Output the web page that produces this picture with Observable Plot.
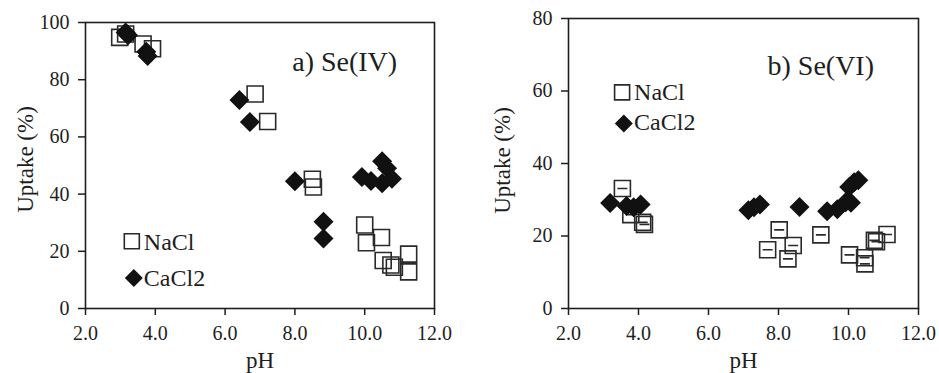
<!DOCTYPE html>
<html>
<head>
<meta charset="utf-8">
<script src="https://cdn.jsdelivr.net/npm/d3@7"></script>
<script src="https://cdn.jsdelivr.net/npm/@observablehq/plot@0.6"></script>
<style>
  html, body { margin: 0; padding: 0; background: #fff; }
  #wrap { display: flex; width: 939px; height: 373px; }
</style>
</head>
<body>
<div id="wrap"></div>
<script>
// ---------- data ----------
const xTicks = [2, 4, 6, 8, 10, 12];
const yTicksA = [0, 20, 40, 60, 80, 100];
const yTicksB = [0, 20, 40, 60, 80];
const seriesNames = ["NaCl", "CaCl2"];
const panelTitles = ["a) Se(IV)", "b) Se(VI)"];
const xLabel = "pH";
const yLabel = "Uptake (%)";

// Panel a) Se(IV)
const naclA_pH = [2.98, 3.15, 3.65, 3.92, 6.86, 7.22, 8.50, 8.53, 10.00, 10.05, 10.48, 10.53, 10.75, 10.85, 11.26, 11.26];
const naclA_up = [94.8, 96.0, 92.5, 90.8, 75.0, 65.4, 45.2, 42.5, 29.2, 23.0, 24.8, 16.8, 15.2, 14.4, 19.0, 12.8];
const caclA_pH = [3.15, 3.22, 3.74, 3.78, 6.41, 6.71, 8.00, 8.82, 8.82, 9.92, 10.18, 10.50, 10.50, 10.64, 10.78];
const caclA_up = [96.5, 95.5, 89.8, 88.3, 72.9, 65.2, 44.5, 30.3, 24.5, 46.0, 44.6, 51.5, 43.8, 49.0, 45.4];

// Panel b) Se(VI)
const naclB_pH = [3.54, 3.78, 4.12, 4.17, 7.69, 8.02, 8.27, 8.42, 9.21, 10.03, 10.46, 10.47, 10.74, 10.80, 11.10];
const naclB_up = [33.1, 25.9, 23.8, 23.2, 16.2, 21.7, 13.7, 17.4, 20.3, 14.8, 14.0, 12.3, 18.8, 18.4, 20.4];
const caclB_pH = [3.19, 3.66, 3.86, 4.06, 7.14, 7.30, 7.47, 8.60, 9.39, 9.68, 9.92, 10.07, 10.02, 10.16, 10.28];
const caclB_up = [29.1, 28.3, 27.9, 28.7, 27.1, 27.9, 28.7, 28.0, 26.8, 27.4, 29.3, 29.2, 33.5, 34.8, 35.4];

// ---------- symbols ----------
function squareSym(h, dash) {
  return {draw(ctx) {
    ctx.moveTo(-h, -h); ctx.lineTo(h, -h); ctx.lineTo(h, h); ctx.lineTo(-h, h); ctx.closePath();
    if (dash) { ctx.moveTo(-dash, 0); ctx.lineTo(dash, 0); }
  }};
}
function diamondSym(h) {
  return {draw(ctx) {
    ctx.moveTo(0, -h); ctx.lineTo(h, 0); ctx.lineTo(0, h); ctx.lineTo(-h, 0); ctx.closePath();
  }};
}

const zip = (xs, ys) => xs.map((x, i) => ({pH: x, up: ys[i]}));
const FONT = "Liberation Serif, Times New Roman, serif";
const INK = "#1e1e1e";

function panel(o) {
  return Plot.plot({
    width: o.width, height: 373,
    marginLeft: o.ml, marginRight: o.mr, marginTop: o.mt, marginBottom: o.mb,
    style: {fontFamily: FONT, fontSize: "20px", color: INK, background: "white", overflow: "visible"},
    x: {domain: [2, 12]},
    y: {domain: [0, o.yMax]},
    marks: [
      Plot.axisX({ticks: xTicks, tickFormat: d => d.toFixed(1), tickSize: 7, tickPadding: 10, strokeWidth: 1.5, fontSize: 20, label: null}),
      Plot.axisY({ticks: o.yTicks, tickFormat: d => String(d), tickSize: 7, tickPadding: 9, strokeWidth: 1.5, fontSize: 20, label: null}),
      Plot.frame({stroke: INK, strokeWidth: 1.6}),
      Plot.dot(zip(o.naPH, o.naUp), {x: "pH", y: "up", symbol: squareSym(8, o.dash), stroke: "#2a2a2a", strokeWidth: 1.6, fill: "none"}),
      Plot.dot(zip(o.caPH, o.caUp), {x: "pH", y: "up", symbol: diamondSym(10), fill: "#111", stroke: "none"}),
      // legend
      Plot.dot([seriesNames[0]], {frameAnchor: "top-left", dx: o.lg.sqx, dy: o.lg.sqy, symbol: squareSym(7.5), stroke: "#2a2a2a", strokeWidth: 1.6, fill: "none"}),
      Plot.text([seriesNames[0]], {text: d => d, frameAnchor: "top-left", dx: o.lg.tx, dy: o.lg.t1y, textAnchor: "start", lineAnchor: "bottom", fontSize: 24, fill: INK}),
      Plot.dot([seriesNames[1]], {frameAnchor: "top-left", dx: o.lg.dmx, dy: o.lg.dmy, symbol: diamondSym(9), fill: "#111", stroke: "none"}),
      Plot.text([seriesNames[1]], {text: d => d, frameAnchor: "top-left", dx: o.lg.tx, dy: o.lg.t2y, textAnchor: "start", lineAnchor: "bottom", fontSize: 24, fill: INK}),
      // panel title
      Plot.text([o.title], {text: d => d, frameAnchor: "top-left", dx: o.tdx, dy: o.tdy, textAnchor: "start", lineAnchor: "bottom", fontSize: 28, fill: INK}),
      // axis titles
      Plot.text([xLabel], {text: d => d, frameAnchor: "bottom", dy: 59, textAnchor: "middle", lineAnchor: "bottom", fontSize: 23, fill: INK}),
      Plot.text([yLabel], {text: d => d, frameAnchor: "left", dx: o.ydx, dy: o.ydy, rotate: -90, textAnchor: "middle", lineAnchor: "bottom", fontSize: 23, fill: INK})
    ]
  });
}

const wrap = document.getElementById("wrap");
wrap.appendChild(panel({
  width: 470, ml: 85, mr: 36, mt: 22, mb: 65, yMax: 100, yTicks: yTicksA,
  naPH: naclA_pH, naUp: naclA_up, caPH: caclA_pH, caUp: caclA_up, dash: 0,
  lg: {sqx: 46.3, sqy: 218.8, dmx: 48.3, dmy: 255.5, tx: 58.3, t1y: 227.3, t2y: 263},
  title: panelTitles[0], tdx: 206.7, tdy: 48, ydx: -53, ydy: -6
}));
wrap.appendChild(panel({
  width: 469, ml: 98, mr: 21, mt: 18, mb: 65, yMax: 80, yTicks: yTicksB,
  naPH: naclB_pH, naUp: naclB_up, caPH: caclB_pH, caUp: caclB_up, dash: 5,
  lg: {sqx: 53.6, sqy: 73.9, dmx: 55.3, dmy: 105, tx: 65.6, t1y: 81.7, t2y: 111.7},
  title: panelTitles[1], tdx: 199, tdy: 56.7, ydx: -59, ydy: -3
}));
</script>
</body>
</html>
